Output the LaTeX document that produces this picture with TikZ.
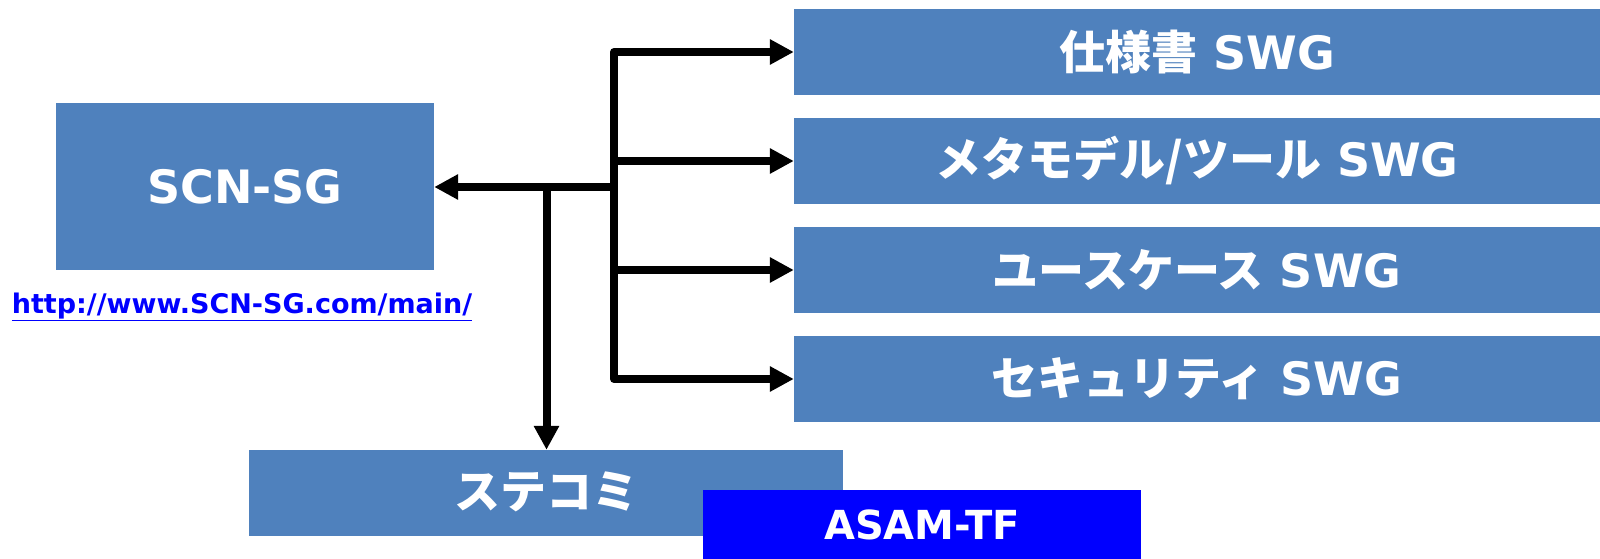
\documentclass[tikz,border=0pt]{standalone}
\usepackage{fontspec}
\setmainfont{DejaVu Sans}
\newfontfamily\cjk{Noto Sans CJK JP}
\usetikzlibrary{arrows.meta}
\definecolor{boxblue}{HTML}{4F81BD}
\definecolor{pureblue}{HTML}{0000FF}
\tikzset{
  box/.style={fill=boxblue, draw=none, text=white, inner sep=0pt,
    font=\bfseries\fontsize{46}{50}\selectfont},
  conn/.style={line width=8pt, line join=round, draw=black},
  tipA/.tip={Triangle[length=24pt,width=24pt]},
  link/.style={text=pureblue, inner sep=0pt, font=\bfseries\fontsize{27}{30}\selectfont}
}
\begin{document}
\begin{tikzpicture}[x=1pt,y=-1pt]
\useasboundingbox (0,0) rectangle (1600,559);
% main boxes
\node[box, minimum width=378pt, minimum height=167pt] (scn) at (245,186.5) {SCN-SG};
\node[link, anchor=base] (url) at (242,313) {\underline{http://www.SCN-SG.com/main/}};
\node[box, minimum width=806pt, minimum height=86pt] (s1) at (1197,52) {{\cjk 仕様書} SWG};
\node[box, minimum width=806pt, minimum height=86pt] (s2) at (1197,161) {{\cjk メタモデル/ツール} SWG};
\node[box, minimum width=806pt, minimum height=86pt] (s3) at (1197,270) {{\cjk ユースケース} SWG};
\node[box, minimum width=806pt, minimum height=86pt] (s4) at (1197,379) {{\cjk セキュリティ} SWG};
\node[box, minimum width=594pt, minimum height=86pt, text depth=6pt] (steko) at (546,493) {\cjk ステコミ};
\node[box, fill=pureblue, minimum width=438pt, minimum height=69pt,
  font=\bfseries\fontsize{40}{44}\selectfont] (asam) at (922,524.5) {ASAM-TF};
% connectors
\coordinate (hub) at (614,187);
\coordinate (j) at (546.5,187);
\draw[conn, tipA-tipA] (s1.west) -- (s1.west -| hub) -- (s4.west -| hub) -- (s4.west);
\draw[conn, -tipA] (s2.west -| hub) -- (s2.west);
\draw[conn, -tipA] (s3.west -| hub) -- (s3.west);
\draw[conn, -tipA] (hub) -- (hub -| scn.east);
\draw[conn, -tipA] (j) -- (j |- steko.north);
\end{tikzpicture}
\end{document}
